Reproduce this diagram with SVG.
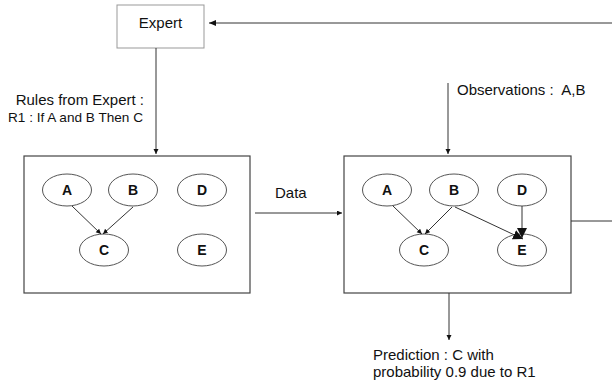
<svg xmlns="http://www.w3.org/2000/svg" width="612" height="381" viewBox="0 0 612 381">
<style>
text{font-family:"Liberation Sans",Arial,sans-serif;font-size:15px;fill:#111}
.lbl{font-weight:bold;font-size:14px;text-anchor:middle}
.sm{font-size:13.6px}
.box{fill:#fff;stroke:#444;stroke-width:1.2}
.ell{fill:#fff;stroke:#555;stroke-width:1}
.ln{stroke:#333;stroke-width:1;fill:none}
</style>
<defs>
<marker id="ah" markerWidth="8" markerHeight="6" refX="7" refY="3" orient="auto" markerUnits="userSpaceOnUse">
<path d="M0,0 L7,3 L0,6 z" fill="#111"/>
</marker>
<marker id="ahs" markerWidth="6" markerHeight="6" refX="5" refY="2.5" orient="auto" markerUnits="userSpaceOnUse">
<path d="M0,0 L5,2.5 L0,5 z" fill="#111"/>
</marker>
<marker id="ahb" markerWidth="12" markerHeight="10" refX="10" refY="5" orient="auto" markerUnits="userSpaceOnUse">
<path d="M0,0 L10,5 L0,10 z" fill="#111"/>
</marker>
</defs>
<rect width="612" height="381" fill="#fff"/>
<g id="expert"><rect x="117" y="5" width="87" height="43" fill="#fff" stroke="#999" stroke-width="1"/><text x="160.5" y="28" text-anchor="middle">Expert</text></g>
<g id="leftbox"><rect class="box" x="24" y="156" width="226" height="137"/></g>
<g id="rightbox"><rect class="box" x="344" y="156" width="227" height="137"/></g>
<g id="L_A"><ellipse class="ell" cx="67" cy="190" rx="24.5" ry="16"/><text class="lbl" x="67" y="195">A</text></g>
<g id="L_B"><ellipse class="ell" cx="133" cy="190" rx="24.5" ry="16"/><text class="lbl" x="133" y="195">B</text></g>
<g id="L_D"><ellipse class="ell" cx="202" cy="190" rx="24.5" ry="16"/><text class="lbl" x="202" y="195">D</text></g>
<g id="L_C"><ellipse class="ell" cx="104" cy="250" rx="24.5" ry="16"/><text class="lbl" x="104" y="255">C</text></g>
<g id="L_E"><ellipse class="ell" cx="202" cy="250" rx="24.5" ry="16"/><text class="lbl" x="202" y="255">E</text></g>
<g id="R_A"><ellipse class="ell" cx="387" cy="190" rx="24.5" ry="16"/><text class="lbl" x="387" y="195">A</text></g>
<g id="R_B"><ellipse class="ell" cx="454" cy="190" rx="24.5" ry="16"/><text class="lbl" x="454" y="195">B</text></g>
<g id="R_D"><ellipse class="ell" cx="522" cy="190" rx="24.5" ry="16"/><text class="lbl" x="522" y="195">D</text></g>
<g id="R_C"><ellipse class="ell" cx="424" cy="250" rx="24.5" ry="16"/><text class="lbl" x="424" y="255">C</text></g>
<g id="R_E"><ellipse class="ell" cx="522" cy="250" rx="24.5" ry="16"/><text class="lbl" x="522" y="255">E</text></g>
<g id="connectors">
<line class="ln" x1="612" y1="23" x2="209" y2="23" marker-end="url(#ah)"/>
<line class="ln" x1="156" y1="48" x2="156" y2="154" marker-end="url(#ahs)"/>
<line class="ln" x1="255" y1="213" x2="342" y2="213" marker-end="url(#ahs)"/>
<line class="ln" x1="448" y1="83" x2="448" y2="154" marker-end="url(#ahs)"/>
<line class="ln" x1="449" y1="293" x2="449" y2="340" marker-end="url(#ahs)"/>
<line class="ln" x1="571" y1="221" x2="612" y2="221"/>
<line class="ln" x1="72" y1="206" x2="101" y2="234" marker-end="url(#ahs)"/>
<line class="ln" x1="133" y1="207" x2="103" y2="234" marker-end="url(#ahs)"/>
<line class="ln" x1="393" y1="206" x2="422" y2="234" marker-end="url(#ahs)"/>
<line class="ln" x1="452" y1="207" x2="425" y2="234" marker-end="url(#ahs)"/>
<line class="ln" x1="455" y1="207" x2="523" y2="239" marker-end="url(#ahb)"/>
<line class="ln" x1="522" y1="206" x2="522" y2="238" marker-end="url(#ahb)"/>
</g>
<g id="labels">
<text x="144" y="105" text-anchor="end">Rules from Expert :</text>
<text class="sm" x="143" y="122" text-anchor="end">R1 : If A and B Then C</text>
<text x="275" y="198">Data</text>
<text x="457" y="95" xml:space="preserve">Observations :  A,B</text>
<text x="373" y="360">Prediction : C with</text>
<text x="373" y="377">probability 0.9 due to R1</text>
</g>
</svg>
